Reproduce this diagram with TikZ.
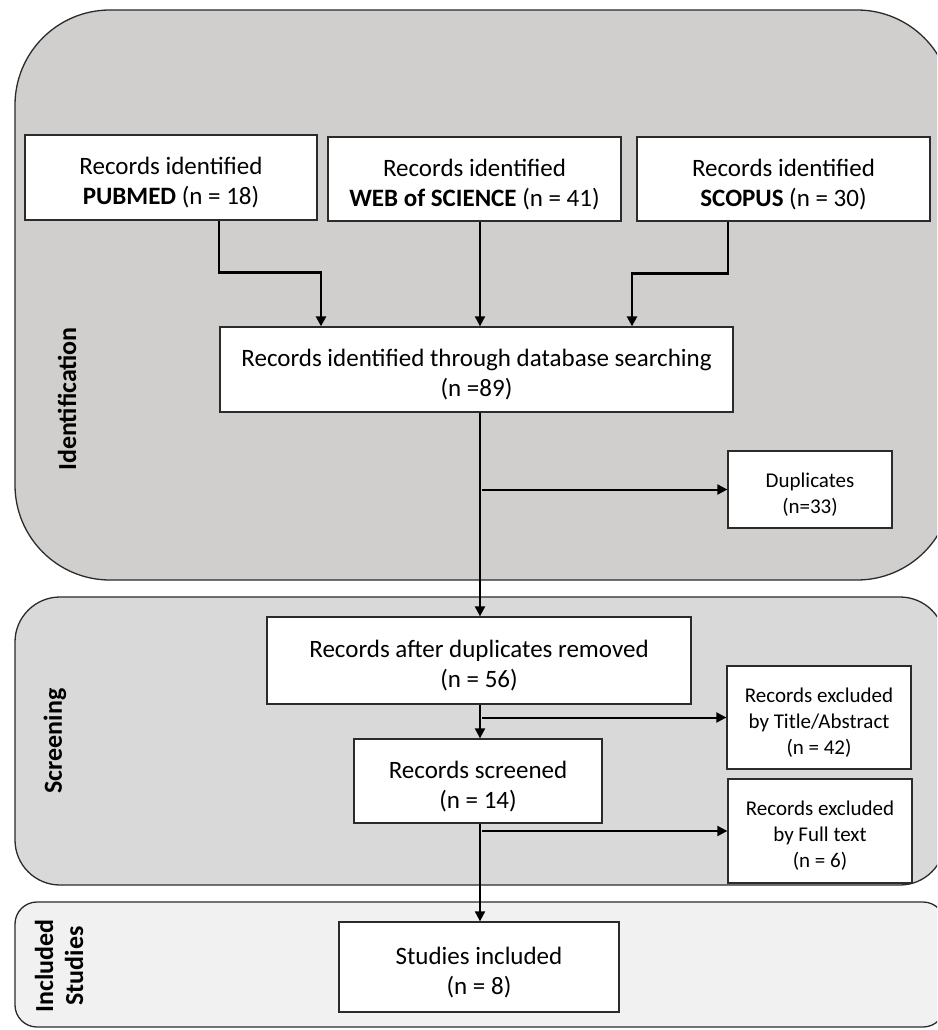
\documentclass[tikz,border=0pt]{standalone}
\usepackage{fontspec}
\setmainfont{Carlito}
\usetikzlibrary{arrows.meta}
\definecolor{panelA}{HTML}{D0CFCD}
\definecolor{panelB}{HTML}{D9D9D9}
\definecolor{panelC}{HTML}{F1F1F1}
\definecolor{edge}{HTML}{2B2B2B}
\newcommand{\upA}{\rule{0pt}{28pt}}
\newcommand{\upB}{\rule{0pt}{24pt}}
\tikzset{
  panel/.style={draw=edge, line width=1.3pt},
  box/.style={draw=edge, line width=1.3pt, fill=white, rectangle, inner sep=0pt, align=center, font=\fontsize{25}{30}\selectfont},
  smallbox/.style={box, font=\fontsize{21}{26}\selectfont},
  arr/.style={line width=2pt, -{Triangle[length=10pt,width=10pt]}},
  elbow/.style={arr, line width=2.6pt},
  phase/.style={rotate=90, align=center, font=\fontsize{26}{30}\selectfont\bfseries}
}
\begin{document}
\begin{tikzpicture}[x=1pt,y=-1pt]
\clip (0,0) rectangle (937,1030);
\fill[white] (0,0) rectangle (937,1030);
% panels
\draw[panel, fill=panelA, rounded corners=95pt] (15,10) rectangle (952,580);
\draw[panel, fill=panelB, rounded corners=45pt] (15,597) rectangle (945,885);
\draw[panel, fill=panelC, rounded corners=22pt] (15,902) rectangle (945,1027);
% phase labels
\node[phase] (lid) at (67,399) {Identification};
\node[phase] (lsc) at (55,741) {Screening};
\node[phase] (lin) at (59,966) {Included\\Studies};
% boxes
\node[box, minimum width=292pt, minimum height=85pt] (pub) at (171,177.5) {\upA Records identified\\\textbf{PUBMED} (n = 18)};
\node[box, minimum width=293pt, minimum height=84pt] (web) at (474.5,179) {\upA Records identified\\\textbf{WEB of SCIENCE} (n = 41)};
\node[box, minimum width=293pt, minimum height=84pt] (sco) at (783.5,179) {\upA Records identified\\\textbf{SCOPUS} (n = 30)};
\node[box, minimum width=513pt, minimum height=85pt] (db) at (476.5,369.5) {\upA Records identified through database searching\\(n =89)};
\node[smallbox, minimum width=164pt, minimum height=77pt] (dup) at (810,489.5) {\upB Duplicates\\(n=33)};
\node[box, minimum width=424pt, minimum height=87pt] (after) at (479,660.5) {\upA Records after duplicates removed\\(n = 56)};
\node[smallbox, minimum width=184pt, minimum height=103pt] (ta) at (819,717.5) {\upB Records excluded\\by Title/Abstract\\(n = 42)};
\node[box, minimum width=248pt, minimum height=84pt] (scr) at (478,781) {\upA Records screened\\(n = 14)};
\node[smallbox, minimum width=184pt, minimum height=104pt] (ft) at (820,831) {\upB Records excluded\\by Full text\\(n = 6)};
\node[box, minimum width=280pt, minimum height=90pt] (inc) at (479,967) {\upA Studies included\\(n = 8)};
% spine
\coordinate (sp) at (480,0);
\coordinate (bs) at (482,0);
% connectors
\draw[elbow] ([xshift=48pt]pub.south) -- ++(0,52) -| ([xshift=-155.5pt]db.north);
\draw[arr] (sp |- web.south) -- (sp |- db.north);
\draw[elbow] ([xshift=-55.5pt]sco.south) -- ++(0,52) -| ([xshift=155.5pt]db.north);
\draw[arr] (sp |- db.south) -- (sp |- after.north);
\draw[arr] (bs |- dup.west) -- (dup.west);
\draw[arr] (sp |- after.south) -- (sp |- scr.north);
\draw[arr] (bs |- ta.west) -- (ta.west);
\draw[arr] (sp |- scr.south) -- (sp |- inc.north);
\draw[arr] (bs |- ft.west) -- (ft.west);
\end{tikzpicture}
\end{document}
